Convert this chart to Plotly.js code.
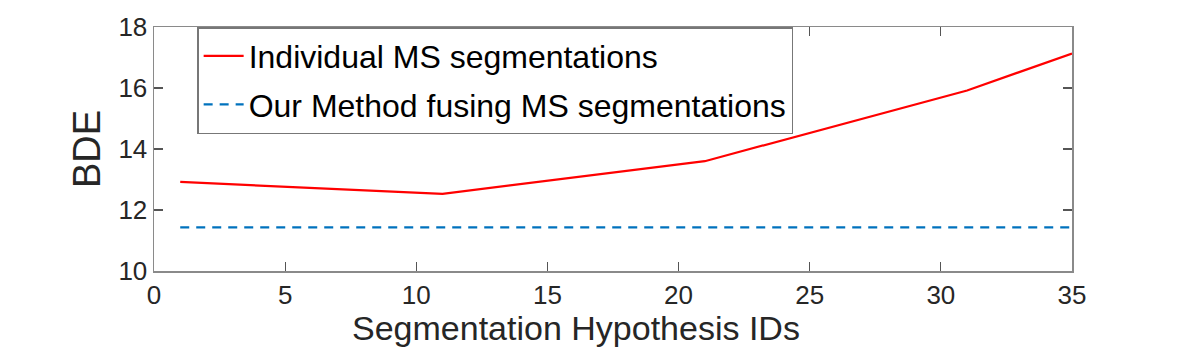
<!DOCTYPE html>
<html>
<head>
<meta charset="utf-8">
<script src="https://cdn.plot.ly/plotly-3.0.1.min.js"></script>
<style>
  html, body { margin: 0; padding: 0; background: #fff; }
  #chart { width: 1184px; height: 362px; }
</style>
</head>
<body>
<div id="chart"></div>
<script>
// segmentation hypothesis ids where the curve was sampled
const hypIds = [1, 11, 21, 31, 35];
const individualBDE = [12.92, 12.53, 13.6, 15.92, 17.13];

const fusedIds = [1, 35];
const fusedBDE = [11.43, 11.43];

const xTicks = [0, 5, 10, 15, 20, 25, 30, 35];
const yTicks = [10, 12, 14, 16, 18];

const font = "Liberation Sans, Arial, Helvetica, sans-serif";
const axisGray = "#8a8a8a";

const trace1 = {
  x: hypIds,
  y: individualBDE,
  mode: "lines",
  name: "Individual MS segmentations",
  legendgroup: "a",
  line: { color: "#ff0000", width: 2.2 },
};

const trace2 = {
  x: fusedIds,
  y: fusedBDE,
  mode: "lines",
  name: "Our Method fusing MS segmentations",
  legendgroup: "b",
  line: { color: "#0072bd", width: 2.2, dash: "9px,7px" },
};

const axisCommon = {
  showgrid: false,
  zeroline: false,
  showline: true,
  linecolor: axisGray,
  linewidth: 1.5,
  mirror: "ticks",
  ticks: "inside",
  ticklen: 9,
  tickwidth: 1.2,
  tickcolor: "#555",
  tickfont: { family: font, size: 26, color: "#262626" },
};

const layout = {
  width: 1184,
  height: 362,
  margin: { l: 154, r: 112, t: 27, b: 91 },
  paper_bgcolor: "#fff",
  plot_bgcolor: "#fff",
  showlegend: true,
  xaxis: {
    ...axisCommon,
    range: [0, 35],
    tickvals: xTicks,
    ticktext: xTicks.map(String),
  },
  yaxis: {
    ...axisCommon,
    range: [10, 18],
    tickvals: yTicks,
    ticktext: yTicks.map(String),
    title: { text: "BDE", font: { family: font, size: 38, color: "#262626" }, standoff: 6 },
  },
  // x title sits a bit left of centre in the reference
  annotations: [{
    text: "Segmentation Hypothesis IDs",
    xref: "paper", yref: "paper",
    x: 0.46, y: 0,
    xanchor: "center", yanchor: "middle",
    yshift: -57,
    showarrow: false,
    font: { family: font, size: 34, color: "#262626" },
  }],
  legend: {
    x: 0.047,
    y: 1,
    xanchor: "left",
    yanchor: "top",
    bgcolor: "#fff",
    bordercolor: "#777",
    borderwidth: 1.5,
    font: { family: font, size: 32, color: "#000" },
    traceorder: "grouped",
    tracegroupgap: 4,
    itemwidth: 40,
  },
};

Plotly.newPlot("chart", [trace1, trace2], layout, { staticPlot: true, displayModeBar: false });
</script>
</body>
</html>
